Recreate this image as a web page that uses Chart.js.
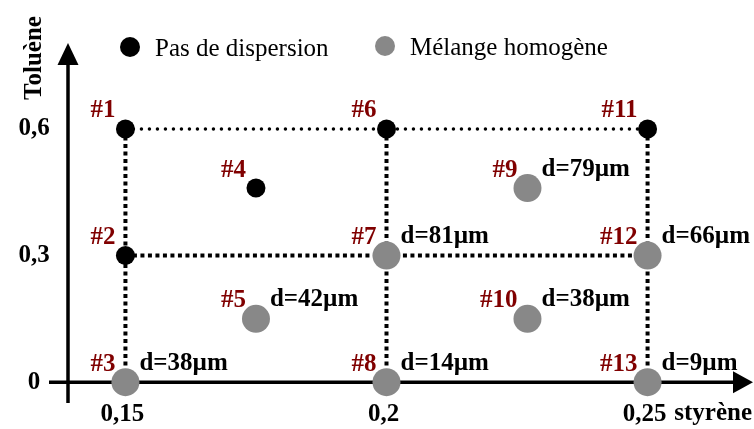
<!DOCTYPE html>
<html><head><meta charset="utf-8">
<script src="https://cdn.jsdelivr.net/npm/chart.js@4/dist/chart.umd.min.js"></script>
<style>html,body{margin:0;background:#fff}#wrap{width:754px;height:429px}</style>
</head><body><div id="wrap"><canvas id="c" width="754" height="429"></canvas></div>
<script>
'use strict';
// essais : fraction styrène / toluène, et diamètre de goutte quand le mélange est homogène
const pointIds  = ['#1','#2','#3','#4','#5','#6','#7','#8','#9','#10','#11','#12','#13'];
const styrene   = [0.15,0.15,0.15,0.175,0.175,0.2,0.2,0.2,0.227,0.227,0.25,0.25,0.25];
const toluene   = [0.6,0.3,0,0.46,0.15,0.6,0.3,0,0.46,0.15,0.6,0.3,0];
const dispersed = [false,false,true,false,true,false,true,true,true,true,false,true,true];
const diameters = [null,null,38,null,42,null,81,14,79,38,null,66,9];
const seriesNames = ['Pas de dispersion','Mélange homogène'];
const xTicks = [0.15,0.2,0.25], xTickLabels = ['0,15','0,2','0,25'];
const yTicks = [0,0.3,0.6],     yTickLabels = ['0','0,3','0,6'];
const xTitle = 'styrène', yTitle = 'Toluène';

const SERIF = '"Liberation Serif","Times New Roman",serif';
const DARKRED = '#800000', GREY = '#888888';

// points, une série par état
const pointSets = [false, true].map((ok, k) => ({
  type:'scatter', label:seriesNames[k], order:0, clip:false,
  data: styrene.map((x,i)=>({x, y:toluene[i], i})).filter(p => dispersed[p.i] === ok),
  backgroundColor: ok ? GREY : '#000', borderWidth:0,
  pointRadius: ok ? 14 : 9.5, pointHoverRadius: ok ? 14 : 9.5
}));

// lignes pointillées reliant la grille d'essais
const lineSet = (pts, round) => ({
  type:'line', order:1, clip:false, data:pts, showLine:true, pointRadius:0,
  borderColor:'#000', borderWidth: round ? 3.5 : 4,
  borderDash: round ? [0, 8] : [4, 3.5], borderCapStyle: round ? 'round' : 'butt'
});
const xa = xTicks[0], xb = xTicks[xTicks.length-1];
const gridSets = [
  lineSet([{x:xa,y:yTicks[2]},{x:xb,y:yTicks[2]}], true),
  lineSet([{x:xa,y:yTicks[1]},{x:xb,y:yTicks[1]}], false),
  ...xTicks.map(x => lineSet([{x,y:yTicks[2]},{x,y:yTicks[0]}], false))
];

const decor = {
  id:'decor',
  beforeDatasetsDraw(chart) {
    const {ctx, chartArea:a, scales:{x, y}} = chart;
    const y0 = y.getPixelForValue(0);
    ctx.save();
    ctx.strokeStyle = '#000'; ctx.fillStyle = '#000'; ctx.lineWidth = 3.5;
    ctx.beginPath(); ctx.moveTo(a.left, 403); ctx.lineTo(a.left, 60); ctx.stroke();
    ctx.beginPath(); ctx.moveTo(a.left, 43); ctx.lineTo(a.left-10.5, 65); ctx.lineTo(a.left+10.5, 65); ctx.closePath(); ctx.fill();
    ctx.beginPath(); ctx.moveTo(49, y0); ctx.lineTo(738, y0); ctx.stroke();
    ctx.beginPath(); ctx.moveTo(753, y0); ctx.lineTo(733, y0-11); ctx.lineTo(733, y0+11); ctx.closePath(); ctx.fill();
    // graduations
    ctx.font = 'bold 25px '+SERIF; ctx.textBaseline = 'middle'; ctx.textAlign = 'center';
    yTicks.forEach((v,i) => ctx.fillText(yTickLabels[i], 34, y.getPixelForValue(v)));
    xTicks.forEach((v,i) => ctx.fillText(xTickLabels[i], x.getPixelForValue(v)-3, 415));
    ctx.textAlign = 'right'; ctx.fillText(xTitle, 752, 414);
    ctx.textAlign = 'center';
    ctx.translate(35, 58); ctx.rotate(-Math.PI/2); ctx.fillText(yTitle, 0, 0);
    ctx.restore();
  },
  afterDatasetsDraw(chart) {
    const {ctx, scales:{x, y}} = chart;
    ctx.save();
    ctx.font = 'bold 25px '+SERIF; ctx.textBaseline = 'middle';
    pointIds.forEach((id,i) => {
      const px = x.getPixelForValue(styrene[i]), py = y.getPixelForValue(toluene[i]);
      ctx.fillStyle = DARKRED; ctx.textAlign = 'right';
      ctx.fillText(id, px-10, py-18);
      if (diameters[i] != null) {
        ctx.fillStyle = '#000'; ctx.textAlign = 'left';
        ctx.fillText('d='+diameters[i]+'µm', px+14, py-19);
      }
    });
    // légende
    ctx.font = '25px '+SERIF; ctx.textAlign = 'left';
    [[130,47,'#000'],[385,46,GREY]].forEach(([cx,cy,c],k) => {
      ctx.fillStyle = c; ctx.beginPath(); ctx.arc(cx, cy, 10, 0, Math.PI*2); ctx.fill();
      ctx.fillStyle = '#000'; ctx.fillText(seriesNames[k], cx+25, cy+2);
    });
    ctx.restore();
  }
};

new Chart(document.getElementById('c'), {
  type:'scatter',
  data:{ datasets:[...pointSets, ...gridSets] },
  options:{
    responsive:false, animation:false, events:[],
    layout:{ autoPadding:false, padding:{left:68, right:2, top:40, bottom:30} },
    scales:{
      x:{ type:'linear', display:false, min:0.139, max:0.27 },
      y:{ type:'linear', display:false, min:-0.04, max:0.811 }
    },
    plugins:{ legend:{display:false}, tooltip:{enabled:false} }
  },
  plugins:[decor]
});
</script>
</body></html>
